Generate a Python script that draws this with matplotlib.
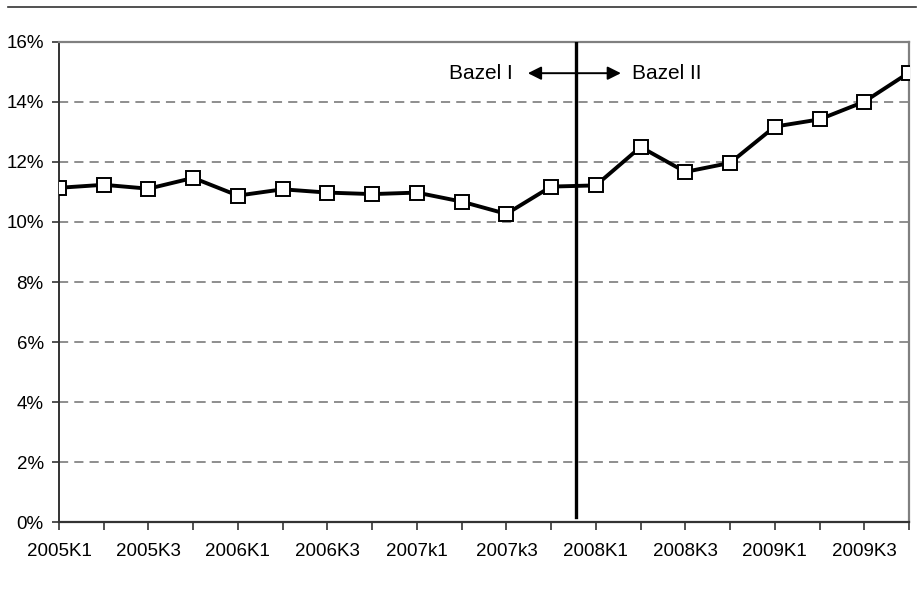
import matplotlib.pyplot as plt
from matplotlib.ticker import FuncFormatter

plt.rcParams['font.family'] = ['Liberation Sans', 'DejaVu Sans']

# Quarters 2005K1 .. 2009K4
quarters = ['2005K1', '2005K2', '2005K3', '2005K4',
            '2006K1', '2006K2', '2006K3', '2006K4',
            '2007k1', '2007k2', '2007k3', '2007k4',
            '2008K1', '2008K2', '2008K3', '2008K4',
            '2009K1', '2009K2', '2009K3', '2009K4']

# ratio in %
ratio = [11.14, 11.24, 11.11, 11.47, 10.88, 11.09, 10.98, 10.93, 10.98, 10.68,
         10.27, 11.18, 11.22, 12.50, 11.67, 11.97, 13.18, 13.42, 14.01, 14.98]

y_ticks = [0, 2, 4, 6, 8, 10, 12, 14, 16]
regime_split = 11.55  # Bazel I -> Bazel II switch (between 2007k4 and 2008K1)

fig = plt.figure(figsize=(9.2, 5.93), dpi=100)
ax = fig.add_axes([0.0641, 0.1197, 0.924, 0.8095])

x = list(range(len(quarters)))
ax.plot(x, ratio, '-s', color='black', linewidth=2.8, markersize=9.5,
        markerfacecolor='white', markeredgecolor='black', markeredgewidth=1.4,
        zorder=4)

# Bazel I / Bazel II divider
ax.axvline(regime_split, ymin=0.011, ymax=1.0, color='black', linewidth=2.4, zorder=3)
ax.annotate('', xy=(10.48, 14.96), xytext=(12.56, 14.96),
            arrowprops=dict(arrowstyle='<|-|>', color='black', lw=1.4,
                            mutation_scale=20, shrinkA=0, shrinkB=0))
ax.text(10.15, 14.96, 'Bazel I', ha='right', va='center', fontsize=15)
ax.text(12.8, 14.96, 'Bazel II', ha='left', va='center', fontsize=15)

ax.set_xlim(0, len(quarters) - 1)
ax.set_ylim(0, 16)
ax.set_yticks(y_ticks)
ax.yaxis.set_major_formatter(FuncFormatter(lambda v, p: f'{v:.0f}%'))
ax.set_xticks(x)
ax.set_xticklabels([q if i % 2 == 0 else '' for i, q in enumerate(quarters)])

ax.tick_params(axis='both', labelsize=13.5, colors='#333333', labelcolor='black')
ax.tick_params(axis='x', length=6, width=1.2, pad=9)
ax.tick_params(axis='y', length=5, width=1.2, pad=6)

for t in y_ticks[1:-1]:
    ax.axhline(t, color='#707070', linewidth=1.1, linestyle=(0, (6, 4)), zorder=1)

ax.spines['left'].set_color('#333333')
ax.spines['bottom'].set_color('#333333')
ax.spines['left'].set_linewidth(1.4)
ax.spines['bottom'].set_linewidth(1.6)
ax.spines['top'].set_color('#808080')
ax.spines['right'].set_color('#808080')
ax.spines['top'].set_linewidth(1.6)
ax.spines['right'].set_linewidth(1.6)

# rule across the top of the figure
fig.add_artist(plt.Line2D([8 / 920, 916 / 920], [1 - 7.3 / 593, 1 - 7.3 / 593],
                          color='#333333', linewidth=1.2))

plt.savefig('out.png', dpi=100)
